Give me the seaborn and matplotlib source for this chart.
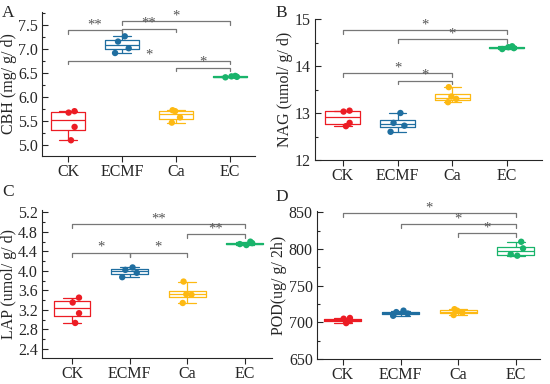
import matplotlib
matplotlib.use("Agg")
import matplotlib.pyplot as plt
from matplotlib.ticker import MultipleLocator
import numpy as np
import pandas as pd
import seaborn as sns

groups = ["CK", "ECMF", "Ca", "EC"]
colors = ["#ec1c24", "#1f6ea0", "#fdb913", "#19b46b"]

cbh = {"CK": [5.70, 5.67, 5.37, 5.09], "ECMF": [7.27, 7.16, 7.02, 6.92],
       "Ca": [5.72, 5.70, 5.57, 5.46], "EC": [6.44, 6.42, 6.41, 6.43]}
nag = {"CK": [13.05, 13.03, 12.79, 12.72], "ECMF": [13.00, 12.79, 12.73, 12.60],
       "Ca": [13.55, 13.35, 13.30, 13.23], "EC": [14.42, 14.38, 14.36, 14.40]}
lap = {"CK": [3.45, 3.35, 3.13, 2.93], "ECMF": [4.07, 4.02, 3.96, 3.87],
       "Ca": [3.78, 3.52, 3.51, 3.34], "EC": [4.60, 4.57, 4.55, 4.53]}
pod = {"CK": [706, 705, 702, 699], "ECMF": [716, 714, 712, 709],
       "Ca": [718, 716, 713, 710], "EC": [810, 801, 793, 791]}

# significance brackets: (group1, group2, y, label)
sig_a = [("CK", "ECMF", 7.40, "**"), ("ECMF", "Ca", 7.43, "**"), ("ECMF", "EC", 7.59, "*"),
         ("CK", "EC", 6.76, "*"), ("Ca", "EC", 6.61, "*")]
sig_b = [("CK", "EC", 14.76, "*"), ("ECMF", "EC", 14.57, "*"),
         ("CK", "Ca", 13.85, "*"), ("ECMF", "Ca", 13.69, "*")]
sig_c = [("CK", "EC", 4.96, "**"), ("Ca", "EC", 4.75, "**"),
         ("CK", "ECMF", 4.37, "*"), ("ECMF", "Ca", 4.37, "*")]
sig_d = [("CK", "EC", 848.6, "*"), ("ECMF", "EC", 834, "*"), ("Ca", "EC", 821.6, "*")]

sns.set_style("ticks")
plt.rcParams["font.family"] = ["Liberation Serif", "DejaVu Serif"]
plt.rcParams["xtick.labelsize"] = 11.5
plt.rcParams["ytick.labelsize"] = 11.5

fig = plt.figure(figsize=(5.5, 3.84), dpi=100)
W, H = 550, 384


def px_axes(l, t, r, b):
    return fig.add_axes([l / W, (H - b) / H, (r - l) / W, (b - t) / H])


def to_long(d):
    rows = [(g, v) for g in groups for v in d[g]]
    return pd.DataFrame(rows, columns=["group", "value"])


def panel(ax, d, ylabel, ylim, xlim, major, minor, sigs, letter, lpos, fmt=None):
    df = to_long(d)
    sns.boxplot(data=df, x="group", y="value", hue="group", palette=colors,
                fill=False, width=0.64, linewidth=0.9, whis=10,
                showfliers=False, legend=False, ax=ax)
    np.random.seed(4)
    sns.stripplot(data=df, x="group", y="value", hue="group", palette=colors,
                  jitter=0.13, size=4.6, legend=False, ax=ax, zorder=3)
    ax.set_ylim(*ylim)
    ax.set_xlim(*xlim)
    ax.yaxis.set_major_locator(MultipleLocator(major))
    ax.yaxis.set_minor_locator(MultipleLocator(minor))
    if fmt:
        ax.yaxis.set_major_formatter(fmt)
    ax.set_xlabel("")
    ax.set_ylabel(ylabel, fontsize=11.5, labelpad=1)
    sns.despine(ax=ax)
    ax.tick_params(axis="x", direction="out", length=4, width=0.8, pad=2)
    ax.tick_params(axis="y", direction="in", length=4, width=0.8, pad=3)
    ax.tick_params(axis="y", which="minor", direction="in", length=2.2, width=0.8)
    for s in ax.spines.values():
        s.set_linewidth(0.8)
    h = (ylim[1] - ylim[0]) * 0.025
    for g1, g2, y, lab in sigs:
        x1, x2 = groups.index(g1), groups.index(g2)
        ax.plot([x1, x1, x2, x2], [y - h, y, y, y - h], color="#777777", lw=0.9)
        ax.text((x1 + x2) / 2, y - h * 0.3, lab, ha="center", va="bottom",
                color="#555555", fontsize=10.5)
    fig.text(lpos[0] / W, 1 - lpos[1] / H, letter, fontsize=12.5,
             ha="left", va="center")


ax_a = px_axes(42, 12, 255, 156)
panel(ax_a, cbh, "CBH (mg/ g/ d)", (4.76, 7.78), (-0.48, 3.46), 0.5, 0.25, sig_a,
      "A", (2, 13), "{x:.1f}")
ax_b = px_axes(315, 19, 542, 160)
panel(ax_b, nag, "NAG (umol/ g/ d)", (12, 15), (-0.51, 3.64), 1, 0.5, sig_b,
      "B", (275, 13))
ax_c = px_axes(42, 210, 272, 358)
panel(ax_c, lap, "LAP (umol/ g/ d)", (2.21, 5.25), (-0.52, 3.47), 0.4, 0.2, sig_c,
      "C", (2, 192), "{x:.1f}")
ax_d = px_axes(317, 211, 540, 359)
panel(ax_d, pod, "POD(ug/ g/ 2h)", (650, 852), (-0.45, 3.42), 50, 25, sig_d,
      "D", (275, 197))

fig.savefig("out.png", dpi=100)
